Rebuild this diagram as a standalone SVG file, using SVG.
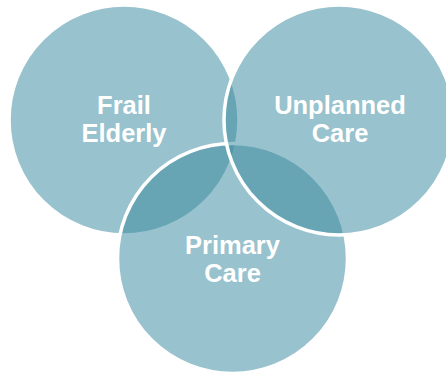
<svg xmlns="http://www.w3.org/2000/svg" width="446" height="372" viewBox="0 0 446 372">
<style>
.c{fill:#398A9F;fill-opacity:0.52;stroke:#ffffff;stroke-width:3.5}
.t{font-family:"Liberation Sans",Arial,sans-serif;font-weight:bold;font-size:25.5px;fill:#ffffff;text-anchor:middle}
</style>
<rect width="446" height="372" fill="#ffffff"/>
<g id="connectors"></g>
<g id="frail-elderly">
<circle class="c" cx="124" cy="120" r="115"/>
<text class="t" x="124" y="114">Frail<tspan x="124" dy="27.5">Elderly</tspan></text>
</g>
<g id="primary-care">
<circle class="c" cx="232.5" cy="258.5" r="115"/>
<text class="t" x="232.5" y="254">Primary<tspan x="232.5" dy="27.5">Care</tspan></text>
</g>
<g id="unplanned-care">
<circle class="c" cx="339" cy="120" r="115"/>
<text class="t" x="340" y="114">Unplanned<tspan x="340" dy="27.5">Care</tspan></text>
</g>
</svg>
